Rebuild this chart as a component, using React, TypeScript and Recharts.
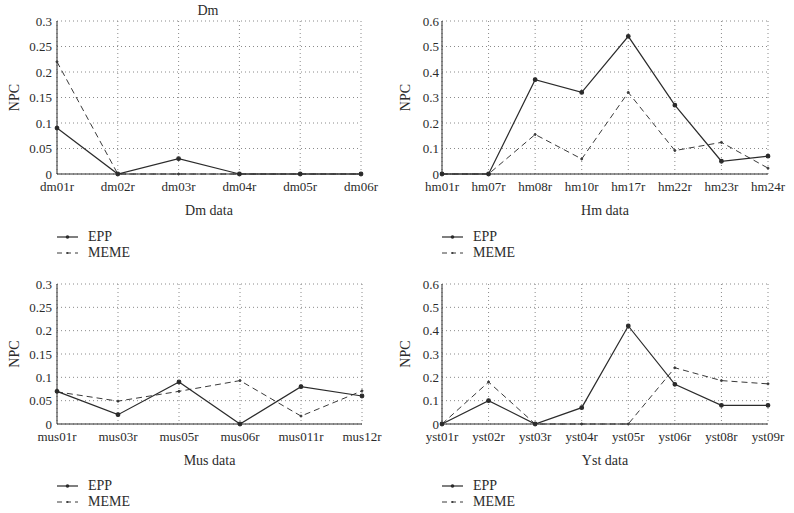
// Four small NPC line charts (EPP vs MEME) in a 2x2 grid, serif figure style.

import { CartesianGrid, Line, LineChart, XAxis, YAxis } from "recharts";

const dmCats = ["dm01r", "dm02r", "dm03r", "dm04r", "dm05r", "dm06r"];
const dmEpp = [0.09, 0, 0.03, 0, 0, 0];
const dmMeme = [0.22, 0, 0, 0, 0, 0];

const hmCats = ["hm01r", "hm07r", "hm08r", "hm10r", "hm17r", "hm22r", "hm23r", "hm24r"];
const hmEpp = [0, 0, 0.37, 0.32, 0.54, 0.27, 0.05, 0.07];
const hmMeme = [0, 0, 0.155, 0.059, 0.32, 0.092, 0.124, 0.023];

const musCats = ["mus01r", "mus03r", "mus05r", "mus06r", "mus011r", "mus12r"];
const musEpp = [0.07, 0.02, 0.09, 0, 0.08, 0.06];
const musMeme = [0.069, 0.049, 0.07, 0.093, 0.017, 0.071];

const ystCats = ["yst01r", "yst02r", "yst03r", "yst04r", "yst05r", "yst06r", "yst08r", "yst09r"];
const ystEpp = [0, 0.1, 0, 0.07, 0.42, 0.17, 0.08, 0.08];
const ystMeme = [0, 0.18, 0, 0, 0, 0.241, 0.186, 0.172];

const smallTicks = [0, 0.05, 0.1, 0.15, 0.2, 0.25, 0.3];
const bigTicks = [0, 0.1, 0.2, 0.3, 0.4, 0.5, 0.6];

const FONT = "Liberation Serif";
const INK = "#2b2b2b";

type PanelProps = {
  left: number;
  top: number;
  width: number;
  height: number;
  yWidth: number;
  rightMargin: number;
  labelOffset: number;
  tickGap: number;
  cats: string[];
  epp: number[];
  meme: number[];
  ticks: number[];
  xLabel: string;
  legendTop: number;
};

function Panel(p: PanelProps) {
  const data = p.cats.map((c, i) => ({ name: c, epp: p.epp[i], meme: p.meme[i] }));
  const max = p.ticks[p.ticks.length - 1];
  const tick = { fontSize: 13, fontFamily: FONT, fill: INK };
  return (
    <div style={{ position: "absolute", left: p.left, top: p.top }}>
      <LineChart
        width={p.width}
        height={p.height}
        data={data}
        margin={{ top: 21, right: p.rightMargin, left: 0, bottom: 0 }}
      >
        <CartesianGrid stroke="#8a8a8a" strokeDasharray="1 3" />
        <XAxis
          dataKey="name"
          height={48}
          stroke={INK}
          tickLine={false}
          tickSize={4}
          tickMargin={4}
          interval={0}
          tick={tick}
          label={{
            value: p.xLabel,
            position: "insideBottom",
            offset: 7,
            style: { fontSize: 14, fontFamily: FONT, fill: INK },
          }}
        />
        <XAxis xAxisId="top" dataKey="name" orientation="top" height={0} tick={false} tickLine={false} stroke={INK} />
        <YAxis
          width={p.yWidth}
          domain={[0, max]}
          ticks={p.ticks}
          stroke={INK}
          tickLine={false}
          tickSize={2}
          tickMargin={p.tickGap}
          tick={tick}
          label={{
            value: "NPC",
            angle: -90,
            position: "insideLeft",
            offset: p.labelOffset,
            style: { textAnchor: "middle", fontSize: 14, fontFamily: FONT, fill: INK },
          }}
        />
        <YAxis yAxisId="right" orientation="right" width={0} domain={[0, max]} tick={false} tickLine={false} stroke={INK} />
        <Line
          type="linear"
          dataKey="meme"
          stroke="#3a3a3a"
          strokeWidth={1}
          strokeDasharray="6 4"
          dot={{ r: 1, fill: "#3a3a3a", stroke: "#3a3a3a" }}
          isAnimationActive={false}
        />
        <Line
          type="linear"
          dataKey="epp"
          stroke={INK}
          strokeWidth={1.2}
          dot={{ r: 1.8, fill: INK, stroke: INK }}
          isAnimationActive={false}
        />
      </LineChart>
      <Legend left={p.yWidth} top={p.legendTop} />
    </div>
  );
}

function Legend({ left, top }: { left: number; top: number }) {
  const row = { display: "flex", alignItems: "center", height: 16 } as const;
  const text = { marginLeft: 10, fontSize: 14, fontFamily: FONT, color: INK } as const;
  return (
    <div style={{ position: "absolute", left, top }}>
      <div style={row}>
        <svg width={21} height={8}>
          <line x1={0} y1={4} x2={21} y2={4} stroke={INK} strokeWidth={1.2} />
          <circle cx={10.5} cy={4} r={1.8} fill={INK} />
        </svg>
        <span style={text}>EPP</span>
      </div>
      <div style={row}>
        <svg width={21} height={8}>
          <line x1={0} y1={4} x2={21} y2={4} stroke="#3a3a3a" strokeDasharray="5 4" />
          <circle cx={10.5} cy={4} r={1} fill="#3a3a3a" />
        </svg>
        <span style={text}>MEME</span>
      </div>
    </div>
  );
}

export default function App() {
  return (
    <div style={{ position: "absolute", left: 0, top: 0, width: 794, height: 513, background: "#fff", overflow: "hidden" }}>
      <div
        style={{
          position: "absolute",
          left: 108,
          width: 200,
          top: 3,
          textAlign: "center",
          fontSize: 14,
          fontFamily: FONT,
          color: INK,
        }}
      >
        Dm
      </div>
      <Panel left={0} top={0} width={400} height={222} yWidth={57} rightMargin={39} labelOffset={14} tickGap={3}
        cats={dmCats} epp={dmEpp} meme={dmMeme} ticks={smallTicks} xLabel="Dm data" legendTop={229} />
      <Panel left={390} top={0} width={404} height={222} yWidth={52} rightMargin={26} labelOffset={15} tickGap={1}
        cats={hmCats} epp={hmEpp} meme={hmMeme} ticks={bigTicks} xLabel="Hm data" legendTop={229} />
      <Panel left={0} top={263} width={400} height={209} yWidth={57} rightMargin={38} labelOffset={14} tickGap={3}
        cats={musCats} epp={musEpp} meme={musMeme} ticks={smallTicks} xLabel="Mus data" legendTop={215} />
      <Panel left={390} top={263} width={404} height={209} yWidth={52} rightMargin={26} labelOffset={15} tickGap={1}
        cats={ystCats} epp={ystEpp} meme={ystMeme} ticks={bigTicks} xLabel="Yst data" legendTop={215} />
    </div>
  );
}
